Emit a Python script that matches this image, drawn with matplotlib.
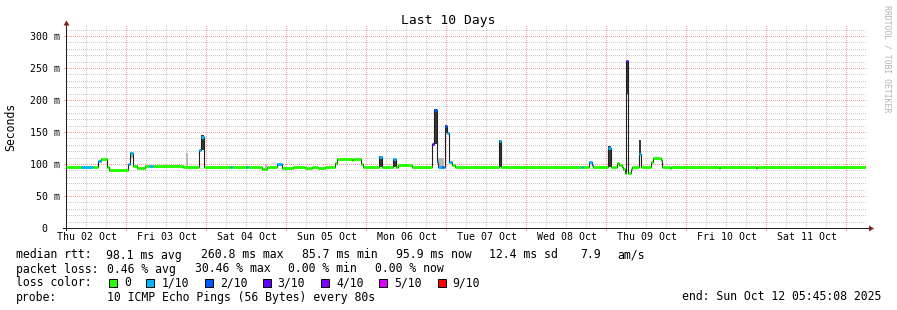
import matplotlib
matplotlib.use("Agg")
import matplotlib.pyplot as plt
from matplotlib.patches import Polygon, Rectangle
import numpy as np

plt.rcParams['font.family'] = ['DejaVu Sans Mono', 'DejaVu Sans']

# ---------------- data (hours since Thu 02 Oct 00:00) ----------------
start_hour = 5.752
end_hour = 245.752

seg_hours = [5.75, 10.22, 14.0, 15.41, 16.40, 18.20, 18.80, 24.50, 25.10, 25.82,
             27.02, 29.51, 30.71, 31.91, 40.91, 45.80, 46.40, 47.12, 55.01, 55.61,
             59.81, 60.41, 64.52, 66.20, 69.20, 70.61, 73.91, 77.51, 79.61, 81.41,
             83.51, 86.51, 87.02, 91.52, 91.91, 92.72, 94.31, 94.91, 99.80, 100.52,
             104.00, 104.72, 105.41, 109.52, 115.70, 116.30, 117.02, 117.50, 118.52, 119.12,
             119.51, 120.02, 120.71, 121.52, 122.51, 135.71, 136.22, 160.31, 160.76, 162.80,
             163.46, 163.91, 168.50, 169.22, 171.20, 171.80, 172.52, 173.00, 173.51, 173.81,
             174.50, 175.31, 175.70, 177.71, 178.22, 181.31, 182.00, 184.22, 184.52, 187.01,
             187.31, 201.71, 202.01, 212.81, 213.11]
seg_median_ms = [95.3, 95.3, 95.3, 105.0, 108.3, 95.3, 90.6, 99.5, 116.7, 97.4,
                 94.3, 97.4, 97.4, 97.4, 95.3, 122.0, 142.7, 95.3, 95.3, 95.3,
                 95.3, 95.3, 92.6, 95.3, 99.5, 94.3, 95.3, 93.8, 95.3, 93.8,
                 94.8, 101.0, 108.3, 107.0, 108.3, 107.3, 99.5, 94.8, 111.4, 94.8,
                 107.8, 94.8, 97.9, 94.8, 132.0, 184.0, 103.0, 96.0, 95.0, 96.0,
                 160.0, 148.0, 103.0, 97.9, 94.8, 136.5, 95.8, 95.8, 95.8, 103.0,
                 99.0, 95.3, 125.0, 95.3, 101.0, 98.4, 95.3, 91.7, 85.7, 260.8,
                 85.7, 92.0, 95.3, 115.0, 95.3, 102.6, 108.9, 105.7, 95.3, 94.0,
                 95.3, 94.0, 95.3, 94.0, 95.6]
seg_loss = [0, 1, 0, 1, 0, 0, 0, 1, 1, 0,
            0, 0, 1, 0, 0, 1, 1, 0, 1, 0,
            1, 0, 0, 0, 1, 0, 0, 0, 0, 0,
            0, 0, 0, 0, 0, 0, 0, 0, 1, 0,
            1, 0, 0, 0, 3, 2, 1, 1, 2, 1,
            2, 1, 1, 0, 0, 1, 0, 1, 0, 1,
            1, 0, 1, 0, 0, 0, 0, 0, 0, 3,
            0, 0, 0, 1, 0, 0, 0, 0, 0, 0,
            0, 0, 0, 0, 0]

smoke_start_h = [25.10, 41.80, 46.40, 65.50, 99.80, 104.00, 116.30, 117.40, 119.51, 135.71, 168.50, 173.81, 177.71]
smoke_end_h   = [25.82, 42.40, 47.12, 66.20, 100.52, 104.72, 117.02, 119.30, 120.02, 136.22, 169.22, 174.50, 178.22]
smoke_lo_ms   = [109, 97, 122, 93, 95, 95, 132, 93, 148, 95, 95, 210, 115]
smoke_hi_ms   = [119, 117, 145, 100, 112, 108, 186, 110, 161, 137.5, 128, 261, 137.5]
smoke_dark    = [0, 0, 1, 0, 1, 1, 1, 0, 1, 1, 1, 1, 1]

loss_labels = ["0", "1/10", "2/10", "3/10", "4/10", "5/10", "9/10"]
loss_colors = ["#26ff00", "#00b8ff", "#0059ff", "#5e00ff", "#7e00ff", "#dd00ff", "#ff0000"]

day_labels = ["Thu 02 Oct", "Fri 03 Oct", "Sat 04 Oct", "Sun 05 Oct", "Mon 06 Oct",
              "Tue 07 Oct", "Wed 08 Oct", "Thu 09 Oct", "Fri 10 Oct", "Sat 11 Oct"]
ytick_values = [0, 50, 100, 150, 200, 250, 300]
ytick_labels = ["  0  ", " 50 m", "100 m", "150 m", "200 m", "250 m", "300 m"]

legend_rtt = [("median rtt:", 16), ("98.1 ms avg", 106), ("260.8 ms max", 201),
              ("85.7 ms min", 302), ("95.9 ms now", 396), ("12.4 ms sd", 489),
              ("7.9", 580), ("am/s", 617)]
legend_loss = [("packet loss:", 16), ("0.46 % avg", 107), ("30.46 % max", 195),
               ("0.00 % min", 288), ("0.00 % now", 375)]
legend_box_x = [109.3, 146.2, 204.7, 262.7, 321.2, 379.2, 437.7]
probe_text = "10 ICMP Echo Pings (56 Bytes) every 80s"
end_text = "end: Sun Oct 12 05:45:08 2025"

# ---------------- figure ----------------
W, H = 897, 310
fig = plt.figure(figsize=(W / 100, H / 100), dpi=100)
fig.patch.set_facecolor("white")


def fx(px):
    return px / W


def fy(py):
    return 1 - py / H


ax_l, ax_r, ax_t, ax_b = 66, 866, 26, 228
ax = fig.add_axes([fx(ax_l), fy(ax_b), (ax_r - ax_l) / W, (ax_b - ax_t) / H])
ax.set_facecolor("none")
x0, x1 = start_hour / 24, end_hour / 24
ax.set_xlim(x0, x1)
ax.set_ylim(0, 315.6)
for s in ax.spines.values():
    s.set_visible(False)

# ---- pixel-exact dotted grid + axis lines (rrdtool style) ----
img = np.zeros((H, W, 4))
minor_rgba = np.array([0.80, 0.80, 0.80, 1.0])
major_rgba = np.array([0.95, 0.62, 0.62, 1.0])
axis_rgba = np.array([0.12, 0.12, 0.12, 1.0])
tr = ax.transData
for v in range(10, 316, 10):
    r = int(round(H - tr.transform((x0, v))[1]))
    col = major_rgba if v % 50 == 0 else minor_rgba
    img[r, ax_l + 1:ax_r:2] = col
    if v % 50 == 0:
        img[r, ax_l - 2:ax_l] = col
for q in np.arange(0.25, 11, 0.25):
    if x0 < q < x1:
        c = int(tr.transform((q, 0))[0])
        major = abs(q - round(q)) < 1e-6
        col = major_rgba if major else minor_rgba
        img[ax_t:ax_b:2, c] = col
        if major:
            img[ax_b + 1:ax_b + 3, c] = col
img[ax_b, ax_l - 3:ax_r + 4] = axis_rgba
img[ax_t - 4:ax_b + 3, ax_l] = axis_rgba
fig.figimage(img, xo=0, yo=0, origin="upper", zorder=-1)

arrow_c = "#7f1f1f"
fig.add_artist(Polygon([(fx(869), fy(225.5)), (fx(869), fy(231.5)), (fx(874), fy(228.5))],
                       closed=True, facecolor=arrow_c, edgecolor="none"))
fig.add_artist(Polygon([(fx(63.5), fy(25.5)), (fx(69.5), fy(25.5)), (fx(66.5), fy(20.5))],
                       closed=True, facecolor=arrow_c, edgecolor="none"))

# smoke
for a, b, lo, hi, dk in zip(smoke_start_h, smoke_end_h, smoke_lo_ms, smoke_hi_ms, smoke_dark):
    ax.add_patch(Rectangle((a / 24, lo), (b - a) / 24, hi - lo,
                           facecolor="#383838" if dk else "#b8b8b8", lw=0, zorder=2))

# median line + loss coloured bands
t = np.array(seg_hours) / 24
ends = np.append(t[1:], x1)
med = np.array(seg_median_ms)
ax.step(np.append(t, x1), np.append(med, med[-1]), where="post",
        color="#202020", lw=0.8, zorder=3)
for a, b, v, l in zip(t, ends, med, seg_loss):
    ax.hlines(v, a, b, colors=loss_colors[l], lw=2.1, zorder=4, capstyle="butt")

# ticks
ax.set_xticks([k + 0.5 for k in range(10)])
ax.set_xticklabels(day_labels, fontsize=7.1)
ax.set_yticks(ytick_values)
ax.set_yticklabels(ytick_labels, fontsize=7.1)
for lab in ax.get_yticklabels():
    lab.set_ha("left")
ax.tick_params(axis="both", length=0)
ax.tick_params(axis="x", pad=2.7)
ax.tick_params(axis="y", pad=(ax_l - 30) * 0.72)

# titles
fig.text(fx(448.5), fy(23.7), "Last 10 Days", ha="center", va="baseline", fontsize=9.4)
fig.text(fx(11), fy(127), "Seconds", ha="center", va="center", rotation=90, fontsize=8.3)
fig.text(fx(886.5), fy(5), "RRDTOOL / TOBI OETIKER", ha="center", va="top",
         rotation=-90, fontsize=5.9, color="#b4b4b4")

# legend
fs = 8.3
rows = [258.5, 272.5, 286.5, 300.5]
for txt, x in legend_rtt:
    fig.text(fx(x), fy(rows[0]), txt, ha="left", va="baseline", fontsize=fs)
for txt, x in legend_loss:
    fig.text(fx(x), fy(rows[1]), txt, ha="left", va="baseline", fontsize=fs)
fig.text(fx(16), fy(rows[2]), "loss color:", ha="left", va="baseline", fontsize=fs)
for bx, lab, col in zip(legend_box_x, loss_labels, loss_colors):
    fig.add_artist(Rectangle((fx(bx), fy(287)), 8 / W, 8 / H, facecolor=col,
                             edgecolor="black", lw=0.7, transform=fig.transFigure))
    fig.text(fx(bx + 15), fy(rows[2]), lab, ha="left", va="baseline", fontsize=fs)
fig.text(fx(16), fy(rows[3]), "probe:", ha="left", va="baseline", fontsize=fs)
fig.text(fx(107), fy(rows[3]), probe_text, ha="left", va="baseline", fontsize=fs)
fig.text(fx(881), fy(rows[3]), end_text, ha="right", va="baseline", fontsize=fs)

fig.savefig("out.png", dpi=100, facecolor="white")
